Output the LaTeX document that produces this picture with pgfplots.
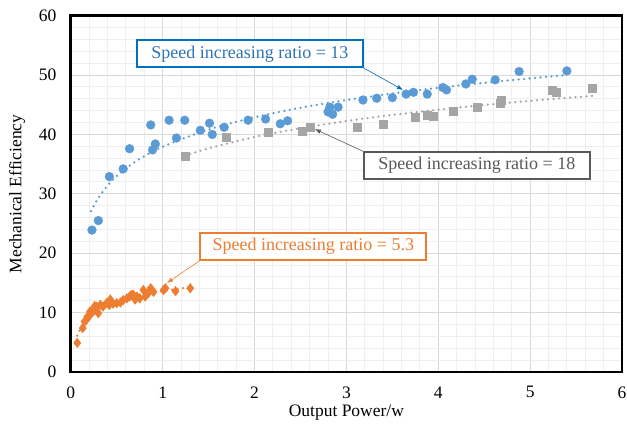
\documentclass[border=0pt]{standalone}
\usepackage{fontspec}
\setmainfont{Liberation Serif}
\usepackage{pgfplots}
\pgfplotsset{compat=1.18}
\usetikzlibrary{arrows.meta}

\definecolor{serblue}{HTML}{5B9BD5}
\definecolor{serorange}{HTML}{ED7D31}
\definecolor{sergray}{HTML}{A5A5A5}
\definecolor{boxblue}{HTML}{0070C0}
\definecolor{txtblue}{HTML}{2E75B6}
\definecolor{boxgray}{HTML}{595959}
\definecolor{gridmajor}{HTML}{D9D9D9}
\definecolor{gridminor}{HTML}{EFEFEF}

\tikzset{
  trend/.style={line width=2.5pt, line cap=round, dash pattern=on 0pt off 5.5pt, smooth},
  callout/.style={fill=white, line width=1.8pt, minimum width=226pt, minimum height=27pt,
    inner sep=0pt, font=\fontsize{18}{21}\selectfont},
}

\begin{document}
\begin{tikzpicture}[x=1pt,y=1pt]
\begin{axis}[
  at={(70.8pt,55pt)}, anchor=south west,
  scale only axis, width=551.2pt, height=356.3pt,
  xmin=0, xmax=6, ymin=0, ymax=60,
  xtick={0,1,...,6}, ytick={0,10,...,60},
  minor x tick num=4, minor y tick num=4,
  grid=both,
  major grid style={gridmajor, line width=1pt},
  minor grid style={gridminor, line width=1pt},
  axis line style={line width=2.7pt, black},
  tick style={draw=none},
  /pgf/number format/assume math mode=true,
  ticklabel style={font=\fontsize{17.5}{20}\selectfont},
  xticklabel style={yshift=-11pt},
  yticklabel style={xshift=-11pt},
  xlabel={Output Power/w},
  ylabel={Mechanical Efficiency},
  label style={font=\fontsize{17.5}{20}\selectfont},
  x label style={at={(axis description cs:0.5,-0.115)}, anchor=center},
  y label style={at={(axis description cs:-0.0976,0.5)}, anchor=center},
  clip=false,
]

% speed increasing ratio = 5.3
\addplot[serorange, trend] coordinates {
  (0.07,6.13) (0.1,7.13) (0.15,8.27) (0.2,9.07) (0.3,10.21) (0.4,11.01)
  (0.5,11.64) (0.6,12.15) (0.8,12.96) (1.0,13.58) (1.3,14.31)
};
\addplot[only marks, mark=diamond*, mark size=4.8pt,
  mark options={draw=serorange, fill=serorange}] coordinates {
  (0.07,4.9) (0.13,7.4) (0.15,8.5) (0.17,8.8) (0.18,9.3) (0.20,9.4)
  (0.21,10.2) (0.23,10.0) (0.25,10.6) (0.26,11.1) (0.28,11.0) (0.30,9.9)
  (0.32,11.3) (0.35,11.0) (0.39,11.6) (0.42,11.3) (0.43,12.2) (0.46,11.5)
  (0.50,11.6) (0.54,11.7) (0.57,12.1) (0.61,12.4) (0.64,12.7) (0.66,13.0)
  (0.68,13.0) (0.70,12.2) (0.72,12.7) (0.75,12.4) (0.79,13.8) (0.81,12.7)
  (0.84,13.2) (0.87,14.1) (0.90,13.5) (1.01,13.8) (1.03,14.1) (1.14,13.6)
  (1.30,14.1)
};

% speed increasing ratio = 18
\addplot[only marks, mark=square*, mark size=4pt,
  mark options={draw=sergray, fill=sergray}] coordinates {
  (1.24,36.4) (1.69,39.6) (2.15,40.4) (2.52,40.6) (2.61,41.2) (3.12,41.2)
  (3.40,41.8) (3.75,42.9) (3.88,43.3) (3.95,43.0) (4.16,44.0) (4.42,44.6)
  (4.67,45.2) (4.68,45.7) (5.24,47.4) (5.28,47.1) (5.68,47.8)
};
\addplot[sergray, trend] coordinates {
  (1.24,36.40) (1.5,37.66) (2.0,39.57) (2.5,41.05) (3.0,42.26) (3.5,43.29)
  (4.0,44.17) (4.5,44.96) (5.0,45.66) (5.68,46.50)
};

% speed increasing ratio = 13
\addplot[only marks, mark=*, mark size=4.4pt,
  mark options={draw=serblue, fill=serblue}] coordinates {
  (0.23,23.9) (0.30,25.5) (0.42,32.9) (0.57,34.2) (0.64,37.6) (0.87,41.6)
  (0.89,37.4) (0.92,38.4) (1.07,42.4) (1.15,39.4) (1.24,42.4) (1.41,40.7)
  (1.51,41.9) (1.54,40.0) (1.67,41.2) (1.93,42.4) (2.12,42.6) (2.28,41.8)
  (2.36,42.3) (2.80,43.8) (2.82,44.6) (2.85,43.4) (2.91,44.6) (3.18,45.8)
  (3.33,46.1) (3.50,46.2) (3.65,46.8) (3.73,47.1) (3.88,46.8) (4.05,47.9)
  (4.09,47.5) (4.30,48.5) (4.37,49.3) (4.62,49.2) (4.88,50.6) (5.40,50.7)
};
\addplot[serblue, trend] coordinates {
  (0.22,27.09) (0.3,29.31) (0.4,31.37) (0.5,32.97) (0.7,35.38) (1.0,37.93)
  (1.5,40.83) (2.0,42.89) (2.5,44.49) (3.0,45.80) (3.5,46.90) (4.0,47.86)
  (4.5,48.70) (5.0,49.45) (5.4,50.00)
};

% callouts
\node[callout, draw=boxblue, text=txtblue] (r13) at (axis cs:1.95,53.6)
  {Speed increasing ratio = 13};
\draw[boxblue, line width=0.6pt, -{Latex[length=6pt,width=4.5pt]}]
  (r13.south east) -- (axis cs:3.616,47.5);

\node[callout, draw=boxgray, text=boxgray] (r18) at (axis cs:4.42,34.76)
  {Speed increasing ratio = 18};
\draw[boxgray, line width=0.6pt, -{Latex[length=6pt,width=4.5pt]}]
  (r18.north west) -- (axis cs:2.657,40.9);

\node[callout, draw=serorange, text=serorange] (r53) at (axis cs:2.64,21.13)
  {Speed increasing ratio = 5.3};
\draw[serorange, line width=0.6pt, -{Latex[length=6pt,width=4.5pt]}]
  (r53.south west) -- (axis cs:1.047,15.0);
\end{axis}
\pgfresetboundingbox
\path[use as bounding box] (0,0) rectangle (627,427);
\end{tikzpicture}
\end{document}
